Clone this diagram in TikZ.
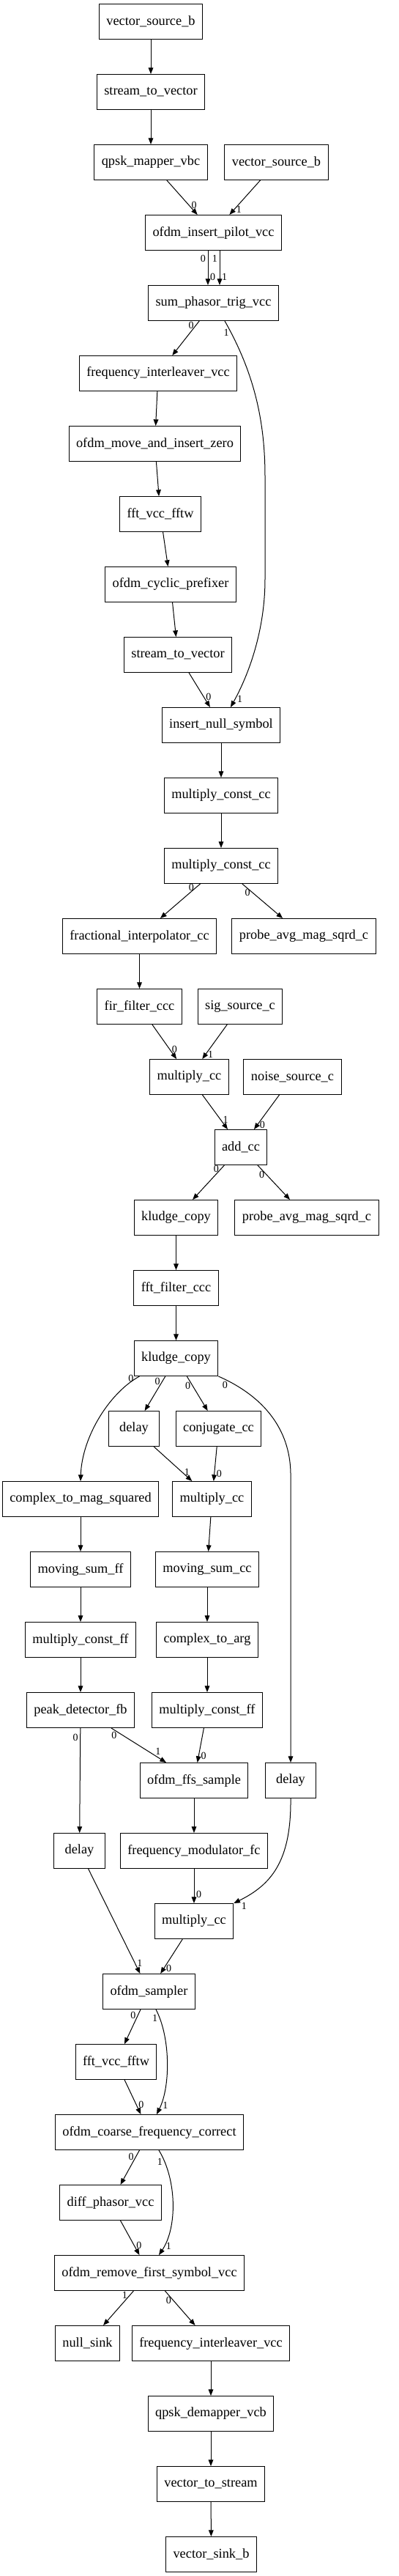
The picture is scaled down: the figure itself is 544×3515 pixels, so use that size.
\documentclass[tikz,border=0pt]{standalone}
\usepackage{fontspec}
\setmainfont{Liberation Serif}
\usetikzlibrary{arrows.meta, calc}

\begin{document}
\begin{tikzpicture}[x=0.75pt, y=-0.75pt,
    blk/.style={draw, line width=0.75pt, minimum height=36pt, minimum width=52pt, inner xsep=7.5pt, font=\fontsize{13.75}{16}\selectfont},
    wire/.style={-{Triangle[length=6.5pt, width=5pt]}, line width=0.75pt},
    lbl/.style={inner sep=2pt, font=\fontsize{10.5}{12}\selectfont}]
    \useasboundingbox (0,0) rectangle (544,3515);

    % Transmitter
    \node[blk] (vsrc) at (206,29.5) {vector\_source\_b};
    \node[blk] (stv) at (206,125.5) {stream\_to\_vector};
    \node[blk] (mapper) at (206,221.5) {qpsk\_mapper\_vbc};
    \node[blk] (vsrcb) at (377.5,221.5) {vector\_source\_b};
    \node[blk] (pilot) at (291.5,317.5) {ofdm\_insert\_pilot\_vcc};
    \node[blk] (phasor) at (291.5,413.5) {sum\_phasor\_trig\_vcc};
    \node[blk] (intlv) at (216,509.5) {frequency\_interleaver\_vcc};
    \node[blk] (zero) at (211.5,605.5) {ofdm\_move\_and\_insert\_zero};
    \node[blk] (ifft) at (219,701.5) {fft\_vcc\_fftw};
    \node[blk] (cp) at (233,797.5) {ofdm\_cyclic\_prefixer};
    \node[blk] (stvb) at (243,893.5) {stream\_to\_vector};
    \node[blk] (nullsym) at (302,989.5) {insert\_null\_symbol};
    \node[blk] (mca) at (302,1085.5) {multiply\_const\_cc};
    \node[blk] (mcb) at (302,1181.5) {multiply\_const\_cc};

    % Channel
    \node[blk] (interp) at (190.5,1277.5) {fractional\_interpolator\_cc};
    \node[blk] (probea) at (415,1277.5) {probe\_avg\_mag\_sqrd\_c};
    \node[blk] (fir) at (190.5,1373.5) {fir\_filter\_ccc};
    \node[blk] (sig) at (328,1373.5) {sig\_source\_c};
    \node[blk] (mula) at (258.5,1469.5) {multiply\_cc};
    \node[blk] (noise) at (399.5,1469.5) {noise\_source\_c};
    \node[blk] (add) at (329,1565.5) {add\_cc};
    \node[blk] (kluda) at (240.5,1661.5) {kludge\_copy};
    \node[blk] (probeb) at (419,1661.5) {probe\_avg\_mag\_sqrd\_c};

    % Synchronisation
    \node[blk] (fftf) at (240.5,1757.5) {fft\_filter\_ccc};
    \node[blk] (kludb) at (240.5,1853.5) {kludge\_copy};
    \node[blk] (dela) at (183,1949.5) {delay};
    \node[blk] (conj) at (298.5,1949.5) {conjugate\_cc};
    \node[blk] (mag) at (110,2045.5) {complex\_to\_mag\_squared};
    \node[blk] (mulb) at (289.5,2045.5) {multiply\_cc};
    \node[blk] (msff) at (110,2141.5) {moving\_sum\_ff};
    \node[blk] (mscc) at (283,2141.5) {moving\_sum\_cc};
    \node[blk] (mcffa) at (110,2237.5) {multiply\_const\_ff};
    \node[blk] (arg) at (283,2237.5) {complex\_to\_arg};
    \node[blk] (peak) at (110,2333.5) {peak\_detector\_fb};
    \node[blk] (mcffb) at (283,2333.5) {multiply\_const\_ff};
    \node[blk] (ffs) at (265,2429.5) {ofdm\_ffs\_sample};
    \node[blk] (delc) at (397,2429.5) {delay};
    \node[blk] (delb) at (108.5,2525.5) {delay};
    \node[blk] (fmod) at (265,2525.5) {frequency\_modulator\_fc};
    \node[blk] (mulc) at (265,2621.5) {multiply\_cc};

    % Receiver
    \node[blk] (sampler) at (203.5,2717.5) {ofdm\_sampler};
    \node[blk] (fftb) at (158.5,2813.5) {fft\_vcc\_fftw};
    \node[blk] (coarse) at (204,2909.5) {ofdm\_coarse\_frequency\_correct};
    \node[blk] (diff) at (151,3005.5) {diff\_phasor\_vcc};
    \node[blk] (rmfirst) at (204,3101.5) {ofdm\_remove\_first\_symbol\_vcc};
    \node[blk] (nullsink) at (119.5,3197.5) {null\_sink};
    \node[blk] (intlvb) at (288,3197.5) {frequency\_interleaver\_vcc};
    \node[blk] (demap) at (288,3293.5) {qpsk\_demapper\_vcb};
    \node[blk] (vts) at (288,3389.5) {vector\_to\_stream};
    \node[blk] (vsink) at (288.5,3485.5) {vector\_sink\_b};

    % Transmitter connections
    \draw[wire] (vsrc) -- (stv);
    \draw[wire] (stv) -- (mapper);
    \draw[wire] (mapper) -- node[lbl, pos=0.73, right] {0} (pilot);
    \draw[wire] (vsrcb) -- node[lbl, pos=0.85, right] {1} (pilot);
    \draw[wire] ($(pilot.south)+(-7.5,0)$) -- node[lbl, pos=0.23, left] {0} node[lbl, pos=0.77, right] {0} ($(phasor.north)+(-7.5,0)$);
    \draw[wire] ($(pilot.south)+(8.5,0)$) -- node[lbl, pos=0.23, left] {1} node[lbl, pos=0.77, right] {1} ($(phasor.north)+(8.5,0)$);
    \draw[wire] (phasor) -- node[lbl, pos=0.12, left] {0} (intlv);
    \draw[wire] ($(phasor.south)+(15.5,0)$) .. controls (345,505) and (362,570) .. (362,650) node[lbl, pos=0.08, left] {1}
        -- (362,790) .. controls (362,860) and (340,920) .. ($(nullsym.north)+(13,0)$) node[lbl, pos=0.92, right] {1};
    \draw[wire] (intlv) -- (zero);
    \draw[wire] (zero) -- (ifft);
    \draw[wire] (ifft) -- (cp);
    \draw[wire] (cp) -- (stvb);
    \draw[wire] (stvb) -- node[lbl, pos=0.7, right] {0} (nullsym);
    \draw[wire] (nullsym) -- (mca);
    \draw[wire] (mca) -- (mcb);

    % Channel connections
    \draw[wire] (mcb) -- node[lbl, pos=0.1, left] {0} (interp);
    \draw[wire] (mcb) -- node[lbl, pos=0.25, left] {0} (probea);
    \draw[wire] (interp) -- (fir);
    \draw[wire] (fir) -- node[lbl, pos=0.72, right] {0} (mula);
    \draw[wire] (sig) -- node[lbl, pos=0.86, right] {1} (mula);
    \draw[wire] (mula) -- node[lbl, pos=0.72, right] {1} (add);
    \draw[wire] (noise) -- node[lbl, pos=0.86, right] {0} (add);
    \draw[wire] (add) -- node[lbl, pos=0.1, left] {0} (kluda);
    \draw[wire] (add) -- node[lbl, pos=0.28, left] {0} (probeb);
    \draw[wire] (kluda) -- (fftf);
    \draw[wire] (fftf) -- (kludb);

    % Synchronisation connections
    \draw[wire] ($(kludb.south)+(-50,0)$) .. controls (150,1900) and (112,1960) .. (mag.north) node[lbl, pos=0.04, left] {0};
    \draw[wire] (kludb) -- node[lbl, pos=0.14, left] {0} (dela);
    \draw[wire] (kludb) -- node[lbl, pos=0.28, left] {0} (conj);
    \draw[wire] (kludb.south east) .. controls (360,1905) and (396,1950) .. (397,2010) node[lbl, pos=0.05, below] {0} -- (delc.north);
    \draw[wire] (dela) -- node[lbl, pos=0.74, right] {1} (mulb);
    \draw[wire] (conj) -- node[lbl, pos=0.78, right] {0} (mulb);
    \draw[wire] (mag) -- (msff);
    \draw[wire] (msff) -- (mcffa);
    \draw[wire] (mcffa) -- (peak);
    \draw[wire] (mulb) -- (mscc);
    \draw[wire] (mscc) -- (arg);
    \draw[wire] (arg) -- (mcffb);
    \draw[wire] (peak) -- node[lbl, pos=0.09, left] {0} (delb);
    \draw[wire] ($(peak.south)+(42,0)$) -- node[lbl, pos=0.05, below] {0} node[lbl, pos=0.85, above] {1} ($(ffs.north)+(-38,0)$);
    \draw[wire] (mcffb) -- node[lbl, pos=0.8, right] {0} (ffs);
    \draw[wire] (ffs) -- (fmod);
    \draw[wire] (fmod) -- node[lbl, pos=0.75, right] {0} (mulc);
    \draw[wire] (delc.south) .. controls (398,2540) and (370,2572) .. (mulc.north east) node[lbl, pos=0.95, below right] {1};
    \draw[wire] (delb) -- node[lbl, pos=0.9, right] {1} (sampler);
    \draw[wire] (mulc) -- node[lbl, pos=0.84, right] {0} (sampler);

    % Receiver connections
    \draw[wire] (sampler) -- node[lbl, pos=0.16, left] {0} (fftb);
    \draw[wire] ($(sampler.south)+(9.5,0)$) .. controls (233,2780) and (233,2847) .. ($(coarse.north)+(10,0)$)
        node[lbl, pos=0.1, left] {1} node[lbl, pos=0.9, right] {1};
    \draw[wire] (fftb) -- node[lbl, pos=0.72, right] {0} (coarse);
    \draw[wire] (coarse) -- node[lbl, pos=0.18, left] {0} (diff);
    \draw[wire] ($(coarse.south)+(13,0)$) .. controls (242,2975) and (242,3040) .. ($(rmfirst.north)+(13,0)$)
        node[lbl, pos=0.12, left] {1} node[lbl, pos=0.9, right] {1};
    \draw[wire] (diff) -- node[lbl, pos=0.72, right] {0} (rmfirst);
    \draw[wire] (rmfirst) -- node[lbl, pos=0.13, left] {1} (nullsink);
    \draw[wire] (rmfirst) -- node[lbl, pos=0.28, left] {0} (intlvb);
    \draw[wire] (intlvb) -- (demap);
    \draw[wire] (demap) -- (vts);
    \draw[wire] (vts) -- (vsink);
\end{tikzpicture}
\end{document}
